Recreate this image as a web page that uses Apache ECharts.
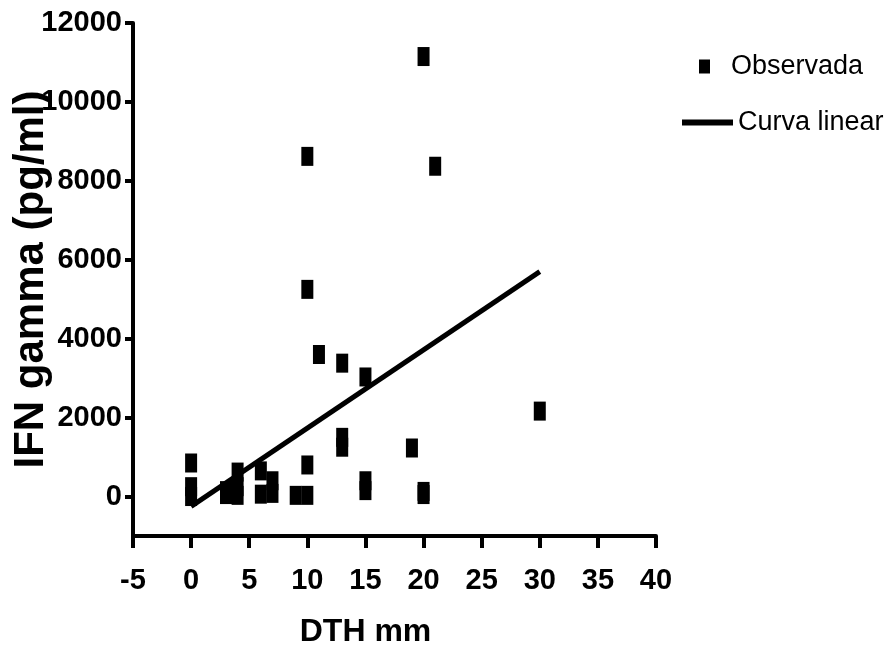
<!DOCTYPE html>
<html>
<head>
<meta charset="utf-8">
<script src="https://cdn.jsdelivr.net/npm/echarts@6/dist/echarts.min.js"></script>
<style>
  html, body { margin: 0; padding: 0; background: #fff; }
  #chart { width: 888px; height: 655px; }
</style>
</head>
<body>
<div id="chart"></div>
<script>
// observed points (DTH mm, IFN gamma pg/ml)
const obsX = [0, 0, 0, 3, 3, 4, 4, 4, 6, 6, 7, 7, 9, 10, 10, 10, 10, 11, 13, 13, 13, 15, 15, 15, 19, 20, 20, 20, 21, 30]
const obsY = [850, 250, 0, 50, 150, 620, 250, 30, 650, 60, 400, 80, 30, 30, 800, 5250, 8620, 3600, 3380, 1500, 1250, 3030, 400, 150, 1230, 11150, 130, 50, 8370, 2165]
// fitted line ends
const fitX = [0, 30]
const fitY = [-250, 5700]
const yTicks = [0, 2000, 4000, 6000, 8000, 10000, 12000]

const font = "'Liberation Sans', Arial, sans-serif"

const chart = echarts.init(document.getElementById('chart'))
const option = {
  animation: false,
  grid: { left: 133, right: 232, top: 23, bottom: 119, outerBoundsMode: 'none' },
  legend: [
    {
      data: ['Observada'],
      left: 694, top: 48,
      icon: 'rect',
      itemWidth: 11, itemHeight: 14,
      textStyle: { fontFamily: font, fontSize: 27, color: '#000', padding: [0, 0, 0, 16] }
    },
    {
      data: ['Curva linear'],
      left: 677, top: 104,
      icon: 'rect',
      itemWidth: 51, itemHeight: 6,
      textStyle: { fontFamily: font, fontSize: 27, color: '#000' }
    }
  ],
  xAxis: {
    type: 'value',
    min: -5, max: 40, interval: 5,
    name: 'DTH mm',
    nameLocation: 'middle',
    nameGap: 80,
    nameTextStyle: { fontFamily: font, fontWeight: 'bold', fontSize: 32, color: '#000', padding: [0, 58, 0, 0] },
    axisLine: { onZero: false, lineStyle: { color: '#000', width: 4 } },
    axisTick: { length: 12, lineStyle: { color: '#000', width: 4 } },
    axisLabel: { margin: 30, fontFamily: font, fontWeight: 'bold', fontSize: 29, color: '#000' },
    splitLine: { show: false }
  },
  yAxis: {
    type: 'value',
    min: -1000, max: 12000,
    name: 'IFN gamma (pg/ml)',
    nameLocation: 'middle',
    nameGap: 81,
    nameMoveOverlap: false,
    nameTextStyle: { fontFamily: font, fontWeight: 'bold', fontSize: 42, color: '#000' },
    axisLine: { onZero: false, lineStyle: { color: '#000', width: 4 } },
    axisTick: { length: 8, customValues: yTicks, lineStyle: { color: '#000', width: 4 } },
    axisLabel: {
      margin: 11, customValues: yTicks,
      formatter: (v) => String(v),
      fontFamily: font, fontWeight: 'bold', fontSize: 29, color: '#000'
    },
    splitLine: { show: false }
  },
  series: [
    {
      name: 'Observada',
      type: 'scatter',
      symbol: 'rect',
      symbolSize: [12, 19],
      itemStyle: { color: '#000', opacity: 1 },
      data: obsX.map((x, i) => [x, obsY[i]]),
      z: 2
    },
    {
      name: 'Curva linear',
      type: 'line',
      symbol: 'none',
      lineStyle: { color: '#000', width: 5 },
      itemStyle: { color: '#000' },
      data: fitX.map((x, i) => [x, fitY[i]]),
      z: 3
    }
  ]
}
option && chart.setOption(option)
</script>
</body>
</html>
